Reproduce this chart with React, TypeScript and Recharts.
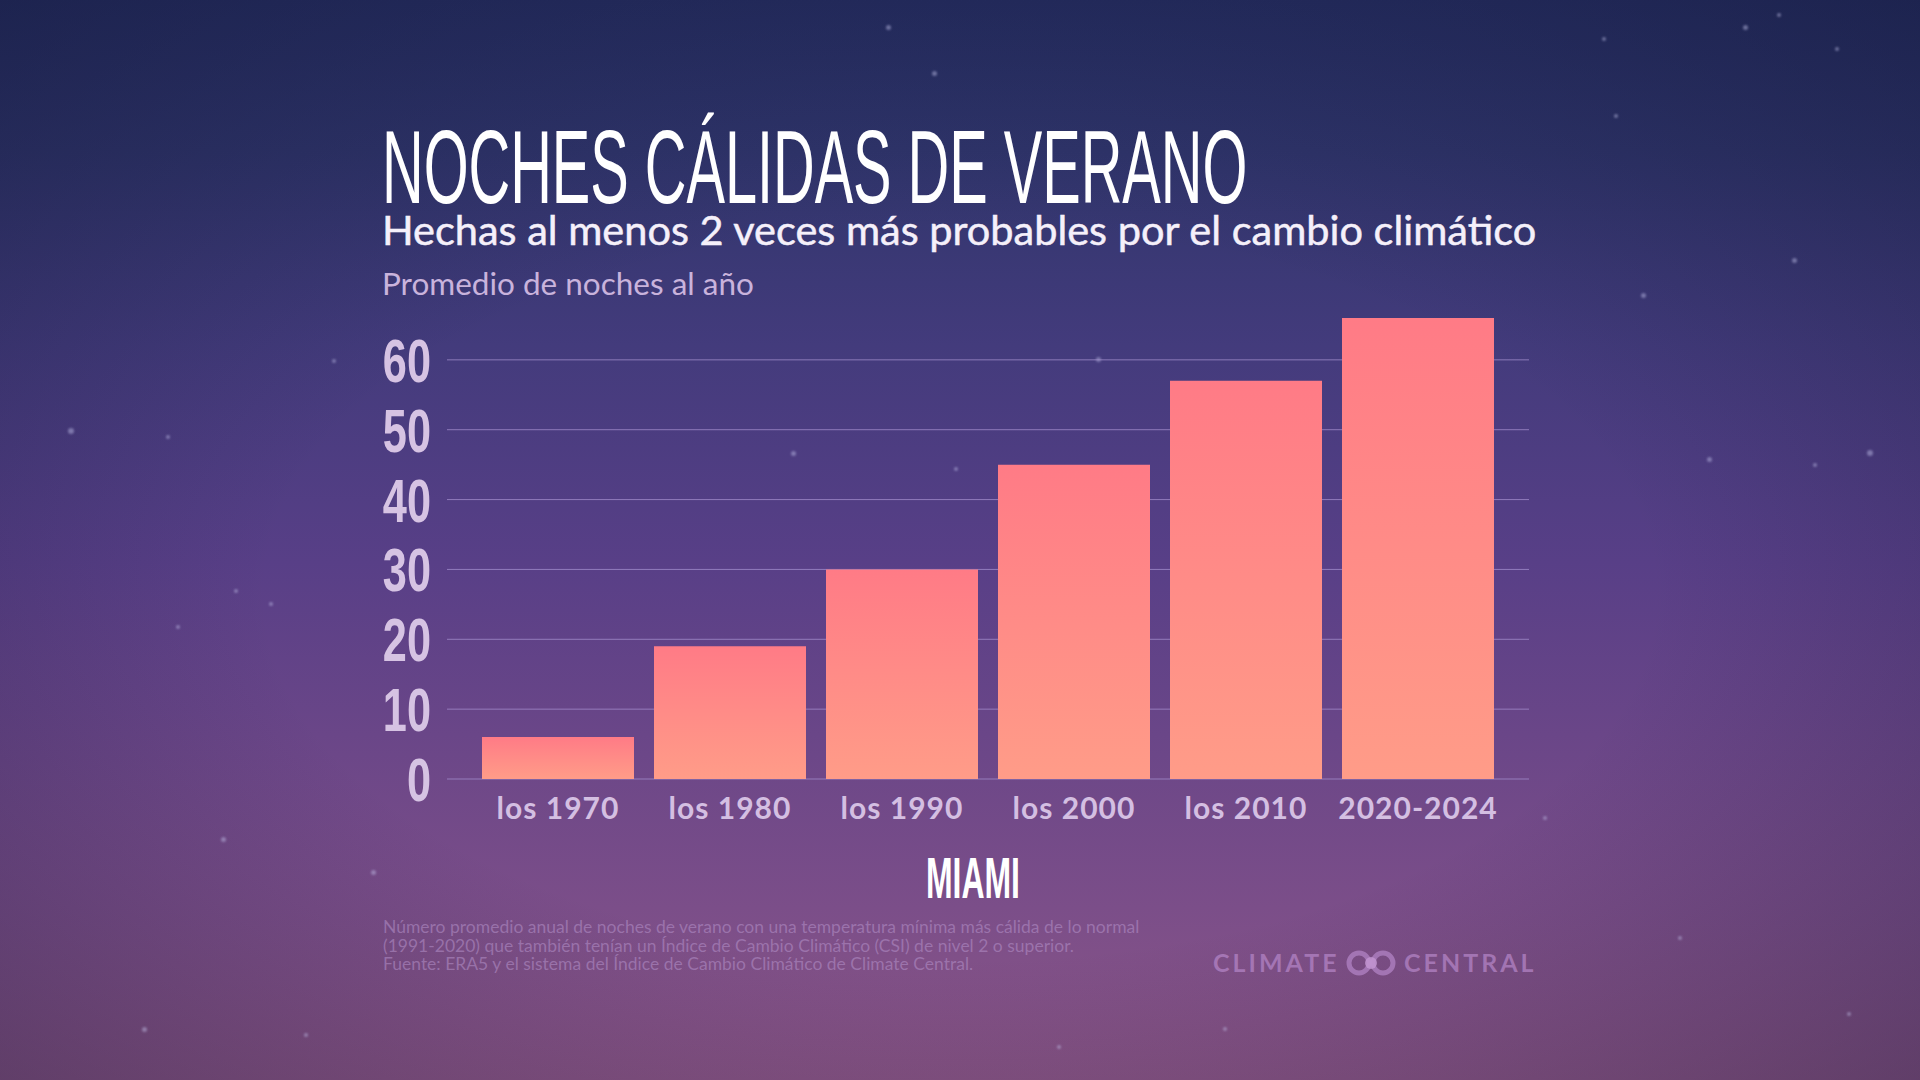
import React from "react"
import { BarChart, Bar, XAxis, YAxis, CartesianGrid } from "recharts"

// decades and average warm summer nights per year (Miami)
const decades = ["los 1970", "los 1980", "los 1990", "los 2000", "los 2010", "2020-2024"]
const nights = [6, 19, 30, 45, 57, 66]
const yTicks = [0, 10, 20, 30, 40, 50, 60]

const footnoteLines = [
  "Número promedio anual de noches de verano con una temperatura mínima más cálida de lo normal",
  "(1991-2020) que también tenían un Índice de Cambio Climático (CSI) de nivel 2 o superior.",
  "Fuente: ERA5 y el sistema del Índice de Cambio Climático de Climate Central.",
]

// faint background stars (decoration only)
const stars: [number, number, number][] = [
  [888, 27, 2.5], [934, 73, 2.5], [1604, 39, 2], [1745, 27, 2.5], [1779, 15, 2], [1837, 49, 2],
  [1616, 116, 2], [1794, 260, 2.5], [1643, 295, 2.5], [334, 361, 2], [71, 431, 3], [168, 437, 2],
  [793, 453, 2.5], [956, 469, 2], [1098, 359, 2.5], [1709, 459, 2.5], [1815, 465, 2], [1870, 453, 3],
  [236, 591, 2], [271, 604, 2], [178, 627, 2], [223, 839, 2.5], [373, 872, 2.5], [1545, 818, 2],
  [1680, 938, 2], [144, 1029, 2.5], [306, 1035, 2], [1059, 1047, 2], [1225, 1029, 2], [1849, 1014, 2],
]

const NARROW = "'Liberation Sans Narrow', 'Arial Narrow', sans-serif"
const SANS = "Lato, 'Open Sans', sans-serif"

const chartData = decades.map((d, i) => ({ decade: d, nights: nights[i] }))

function YTick({ x, y, payload }: any) {
  return (
    <text
      transform={`translate(${x},${y + 22}) scale(0.71,1)`}
      textAnchor="end"
      fill="#d6c3e3"
      fontFamily={NARROW}
      fontWeight={700}
      fontSize={61}
    >
      {payload.value}
    </text>
  )
}

function XTick({ x, y, payload }: any) {
  return (
    <text
      x={x}
      y={y + 40}
      textAnchor="middle"
      fill="#d4bfe2"
      fontFamily={SANS}
      fontWeight={700}
      fontSize={30}
      letterSpacing={1}
    >
      {payload.value}
    </text>
  )
}

export default function App() {
  return (
    <div
      style={{
        position: "absolute",
        left: 0,
        top: 0,
        width: 1920,
        height: 1080,
        overflow: "hidden",
        background:
          "radial-gradient(ellipse 80% 75% at 50% 55%, rgba(0,0,0,0) 45%, rgba(14,18,48,0.45) 100%)," +
          "linear-gradient(180deg, #283066 0%, #30356c 14%, #433b7c 32%, #583f87 52%, #6a4688 68%, #7b4e89 84%, #8b5586 100%)",
      }}
    >
      {stars.map(([sx, sy, r], i) => (
        <div
          key={i}
          style={{
            position: "absolute",
            left: sx - r,
            top: sy - r,
            width: r * 2,
            height: r * 2,
            borderRadius: "50%",
            background: "rgba(200,200,240,0.45)",
            filter: "blur(1px)",
          }}
        />
      ))}

      <div style={{ position: "absolute", left: 0, top: 0 }}>
        <BarChart
          width={1920}
          height={1080}
          data={chartData}
          margin={{ top: 290, right: 391, bottom: 241, left: 387 }}
          barCategoryGap={10}
        >
          <defs>
            <linearGradient id="barFill" x1="0" y1="0" x2="0" y2="1">
              <stop offset="0%" stopColor="#ff7b86" />
              <stop offset="100%" stopColor="#ff9c88" />
            </linearGradient>
          </defs>
          <CartesianGrid vertical={false} horizontalValues={yTicks} stroke="#a48fce" strokeOpacity={0.75} />
          <XAxis
            dataKey="decade"
            height={60}
            axisLine={false}
            tickLine={false}
            tickSize={0}
            tickMargin={0}
            padding={{ left: 25, right: 25 }}
            tick={<XTick />}
            interval={0}
          />
          <YAxis
            width={60}
            domain={[0, 70]}
            ticks={yTicks}
            axisLine={false}
            tickLine={false}
            tickSize={0}
            tickMargin={16}
            tick={<YTick />}
          />
          <Bar dataKey="nights" fill="url(#barFill)" isAnimationActive={false} />
        </BarChart>
      </div>

      <svg
        width={1920}
        height={1080}
        style={{ position: "absolute", left: 0, top: 0, pointerEvents: "none" }}
      >
        <text transform="translate(382,203) scale(0.56,1)" fill="#ffffff" fontFamily={NARROW} fontSize={103}>
          NOCHES CÁLIDAS DE VERANO
        </text>
        <text x={382} y={245} fill="#f5f0fa" stroke="#f5f0fa" strokeWidth={0.5} fontFamily={SANS} fontSize={41.5}>
          Hechas al menos 2 veces más probables por el cambio climático
        </text>
        <text x={382} y={295} fill="#c9b3dc" fontFamily={SANS} fontSize={31.5}>
          Promedio de noches al año
        </text>
        <text transform="translate(973,898) scale(0.56,1)" textAnchor="middle" fill="#ffffff" fontFamily={NARROW} fontWeight={700} fontSize={57}>
          MIAMI
        </text>
        {footnoteLines.map((line, i) => (
          <text key={i} x={383} y={933 + i * 18.5} fill="#b08cc4" fillOpacity={0.6} fontFamily={SANS} fontSize={17.5}>
            {line}
          </text>
        ))}
        <g fill="#b283c4" fillOpacity={0.75}>
          <text x={1213} y={972} fontFamily={SANS} fontWeight={700} fontSize={25} letterSpacing={3}>
            CLIMATE
          </text>
          <text x={1404} y={972} fontFamily={SANS} fontWeight={700} fontSize={25} letterSpacing={3}>
            CENTRAL
          </text>
        </g>
        <g stroke="#b283c4" strokeOpacity={0.75} fill="none" strokeWidth={5}>
          <circle cx={1359} cy={963} r={10} />
          <circle cx={1383} cy={963} r={10} />
        </g>
        <circle cx={1371} cy={963} r={6} fill="#c79ad6" fillOpacity={0.75} />
      </svg>
    </div>
  )
}
